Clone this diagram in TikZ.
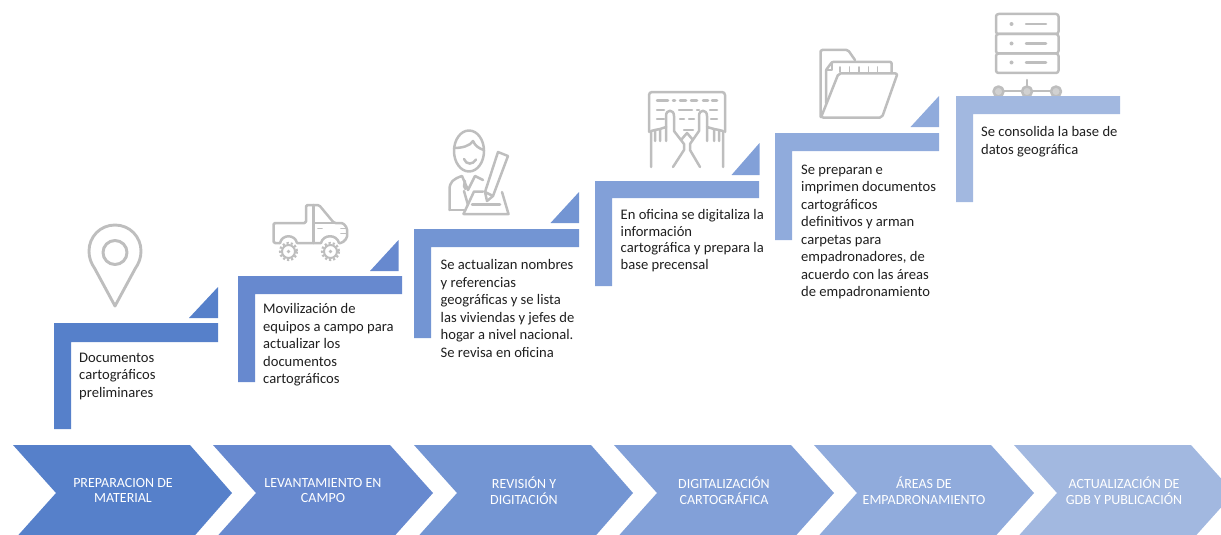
\documentclass[tikz,border=0pt]{standalone}
\usepackage{fontspec}
\setmainfont{Carlito}
\definecolor{stepa}{HTML}{5680CA}
\definecolor{stepb}{HTML}{6789CF}
\definecolor{stepc}{HTML}{7395D3}
\definecolor{stepd}{HTML}{82A0D8}
\definecolor{stepe}{HTML}{90ABDC}
\definecolor{stepf}{HTML}{A2B8E0}
\definecolor{icongray}{HTML}{BEBEBE}
\tikzset{
    steptext/.style={anchor=north west,inner sep=0pt,align=left,text=black!88,font=\fontsize{14.6}{17.5}\selectfont},
    arrowtext/.style={anchor=center,inner sep=0pt,align=center,text=white,font=\fontsize{14}{15.6}\selectfont},
    icon/.style={draw=icongray,line width=2.5pt,line join=round,line cap=round},
    thinicon/.style={icon,line width=1.9pt}
}
\begin{document}
\begin{tikzpicture}[x=1pt,y=-1pt]
            \clip (0,0) rectangle (1221,535);

            % arrows along the bottom
            \fill[stepa] (13,445) -- (190,445) -- (232,493) -- (190,541) -- (13,541) -- (56,493) -- cycle;
            \fill[stepb] (213,445) -- (390,445) -- (433,493) -- (390,541) -- (213,541) -- (256,493) -- cycle;
            \fill[stepc] (414,445) -- (591,445) -- (633,493) -- (591,541) -- (414,541) -- (457,493) -- cycle;
            \fill[stepd] (614,445) -- (791,445) -- (834,493) -- (791,541) -- (614,541) -- (657,493) -- cycle;
            \fill[stepe] (814,445) -- (991,445) -- (1034,493) -- (991,541) -- (814,541) -- (857,493) -- cycle;
            \fill[stepf] (1014,445) -- (1191,445) -- (1234,493) -- (1191,541) -- (1014,541) -- (1057,493) -- cycle;
            \node[arrowtext] (arrowA) at (123,490.5) {PREPARACION DE\\MATERIAL};
            \node[arrowtext] (arrowB) at (323,490.5) {LEVANTAMIENTO EN\\CAMPO};
            \node[arrowtext] (arrowC) at (524,490.5) {REVISIÓN Y\\DIGITACIÓN};
            \node[arrowtext] (arrowD) at (724,490.5) {DIGITALIZACIÓN\\CARTOGRÁFICA};
            \node[arrowtext] (arrowE) at (924,490.5) {ÁREAS DE\\EMPADRONAMIENTO};
            \node[arrowtext] (arrowF) at (1124,490.5) {ACTUALIZACIÓN DE\\GDB Y PUBLICACIÓN};

            % pin
            \draw[icon,line width=2.9pt] (115,306) -- (95,269) .. controls (91,263) and (89,258) .. (89,251) .. controls (89,237) and (100,225) .. (115,225) .. controls (130,225) and (141,237) .. (141,251) .. controls (141,258) and (139,263) .. (135,269) -- cycle;
            \draw[icon,line width=3pt] (115,252.5) circle (12);

            % truck
            \draw[icon,rounded corners=1.5pt] (280,243) -- (273.5,243) -- (273.5,223) -- (306,223) -- (306,205) -- (319,205) -- (334,223) -- (343,223) -- (347,228) -- (347,238) -- (342,243) -- (339,243);
            \draw[icon] (280,243) .. controls (282,234) and (295,234) .. (297,243) -- (321,243) .. controls (323,234) and (337,234) .. (339,243);
            \draw[icon] (313.5,205) -- (313.5,243);
            \draw[icon] (313.5,223) -- (334,223);
            \draw[thinicon] (318,228.5) -- (322,228.5);
            \draw[thinicon] (341,228.5) -- (347,228.5);
            \draw[thinicon] (341,233.5) -- (347,233.5);
            \draw[icon,line width=2pt] (288.5,251.5) circle (6.5);
            \draw[icon,line width=2pt] (330.5,251.5) circle (6.5);
            \draw[icon,line width=2.2pt,line cap=butt,dash pattern=on 2.2pt off 2pt] (288.5,251.5) circle (8.5);
            \draw[icon,line width=2.2pt,line cap=butt,dash pattern=on 2.2pt off 2pt] (330.5,251.5) circle (8.5);
            \fill[icongray] (288.5,251.5) circle (1.8);
            \fill[icongray] (330.5,251.5) circle (1.8);

            % person writing
            \draw[icon] (469,151) ellipse [x radius=15,y radius=20.5];
            \draw[icon] (454,148) .. controls (462,148) and (470,146) .. (473,141) .. controls (475,146) and (480,149) .. (484,150);
            \draw[icon] (464,159) .. controls (466,165) and (473,165) .. (476,159.5);
            \draw[icon] (449.5,210) -- (449.5,190) .. controls (449.5,182) and (453,179) .. (462,176) -- (468,190) -- (475,176) -- (483,180);
            \draw[icon] (449.5,210) -- (464,210);
            \draw[icon] (465,181) -- (464,186) -- (465.5,189);
            \draw[icon] (464,191) -- (468,205);
            \draw[icon] (498,152) -- (508,156) -- (493,196) -- (487,201) -- (485,192) -- cycle;
            \draw[icon] (485,192) -- (493,196);
            \draw[icon] (463.5,214) -- (474,191.5) -- (483,191.5);
            \draw[icon] (502,192) -- (508.5,214) -- (463.5,214);
            \draw[icon] (472,204.5) -- (500,204.5);

            % keyboard and hands
            \draw[icon,rounded corners=3pt] (649,132) -- (649,92) -- (725,92) -- (725,132);
            \draw[icon] (657,100.5) -- (668,100.5);
            \draw[icon] (673,100.5) -- (675,100.5);
            \draw[icon] (680,100.5) -- (686,100.5);
            \draw[icon] (691,100.5) -- (697,100.5);
            \draw[icon] (703,100.5) -- (708,100.5);
            \draw[icon] (712,100.5) -- (717,100.5);
            \draw[icon] (657,110) -- (664,110);
            \draw[icon] (679,110) -- (692,110);
            \draw[icon] (697,110) -- (699,110);
            \draw[icon] (710,110) -- (717,110);
            \draw[icon] (657,119) -- (664,119);
            \draw[icon] (680,119) -- (684,119);
            \draw[icon] (689,119) -- (694,119);
            \draw[icon] (711,119) -- (717,119);
            \draw[icon] (651,167) -- (651,131) -- (655,130) -- (655,141);
            \draw[icon] (655,130) -- (660,129) -- (660,141);
            \draw[icon] (660,129) -- (666,127) -- (666,141);
            \draw[icon] (666,127) -- (666,116) .. controls (666,109) and (674,109) .. (674,116) -- (674,131) -- (684,144) -- (684,150) -- (673,167);
            \draw[icon] (723,167) -- (723,131) -- (719,130) -- (719,141);
            \draw[icon] (719,130) -- (714,129) -- (714,141);
            \draw[icon] (714,129) -- (707,127) -- (707,141);
            \draw[icon] (707,127) -- (707,116) .. controls (707,109) and (699,109) .. (699,116) -- (699,131) -- (690,144) -- (690,150) -- (700,167);
            \draw[icon] (684,130) -- (693,130);
            \draw[icon] (681,140) -- (687,133) -- (693,140);

            % folder
            \draw[icon,rounded corners=1.5pt] (820.5,117) -- (820.5,50) -- (848,50) -- (855,60);
            \draw[icon,rounded corners=1pt] (826,103) -- (826,70) -- (832,62) -- (891.5,62) -- (891.5,73);
            \draw[thinicon] (826,70) -- (832,70) -- (832,62);
            \draw[thinicon] (840,67) -- (840,72);
            \draw[thinicon] (849.5,67) -- (849.5,72);
            \draw[thinicon] (859,67) -- (859,72);
            \draw[thinicon] (868.5,67) -- (868.5,72);
            \draw[thinicon] (877.5,67) -- (877.5,72);
            \draw[icon,rounded corners=2pt] (838.5,73.5) -- (897.5,73.5) -- (882,117.5) -- (821,117.5) -- cycle;

            % server
            \draw[icon,rounded corners=2.5pt] (996,14) rectangle (1058.5,34);
            \draw[icon,rounded corners=2.5pt] (996,34) rectangle (1058.5,53.5);
            \draw[icon,rounded corners=2.5pt] (996,53.5) rectangle (1058.5,73);
            \fill[icongray] (1011.5,24) circle (2);
            \fill[icongray] (1011.5,43.5) circle (2);
            \fill[icongray] (1011.5,62.5) circle (2);
            \draw[icon] (1026,24) -- (1046,24);
            \draw[icon] (1026,43.5) -- (1046,43.5);
            \draw[icon] (1026,62.5) -- (1046,62.5);
            \draw[icon] (1027,80) -- (1027,91);
            \draw[icon] (998.5,91) -- (1056,91);
            \draw[icon,fill=icongray!70] (998.5,91.5) circle (5);
            \draw[icon,fill=icongray!70] (1027,91.5) circle (5);
            \draw[icon,fill=icongray!70] (1056,91.5) circle (5);

            % steps
            \fill[stepa] (54,323) -- (218,323) -- (218,342) -- (71,342) -- (71,429) -- (54,429) -- cycle;
            \fill[stepa] (218,287) -- (218,318) -- (189,318) -- cycle;
            \node[steptext] (textA) at (79,352.5) {Documentos\\cartográficos\\preliminares};

            \fill[stepb] (238,276) -- (402,276) -- (402,294) -- (255,294) -- (255,382) -- (238,382) -- cycle;
            \fill[stepb] (398.5,240) -- (398.5,271) -- (370,271) -- cycle;
            \node[steptext] (textB) at (263,303.5) {Movilización de\\equipos a campo para\\actualizar los\\documentos\\cartográficos};

            \fill[stepc] (414,229) -- (579,229) -- (579,247) -- (431,247) -- (431,338) -- (414,338) -- cycle;
            \fill[stepc] (579,192) -- (579,223) -- (550.5,223) -- cycle;
            \node[steptext] (textC) at (440.5,259.5) {Se actualizan nombres\\y referencias\\geográficas y se lista\\las viviendas y jefes de\\hogar a nivel nacional.\\Se revisa en oficina};

            \fill[stepd] (595,181) -- (759,181) -- (759,198) -- (612,198) -- (612,286) -- (595,286) -- cycle;
            \fill[stepd] (759.5,143) -- (759.5,175) -- (731.5,175) -- cycle;
            \node[steptext,font=\fontsize{14.6}{16.4}\selectfont] (textD) at (620.5,209.5) {En oficina se digitaliza la\\información\\cartográfica y prepara la\\base precensal};

            \fill[stepe] (775,133) -- (939,133) -- (939,151) -- (792,151) -- (792,240) -- (775,240) -- cycle;
            \fill[stepe] (939,96) -- (939,127) -- (910.5,127) -- cycle;
            \node[steptext] (textE) at (801,164.5) {Se preparan e\\imprimen documentos\\cartográficos\\definitivos y arman\\carpetas para\\empadronadores, de\\acuerdo con las áreas\\de empadronamiento};

            \fill[stepf] (956,96) -- (1120,96) -- (1120,114) -- (973,114) -- (973,202) -- (956,202) -- cycle;
            \node[steptext] (textF) at (981,126.5) {Se consolida la base de\\datos geográfica};
\end{tikzpicture}
\end{document}
